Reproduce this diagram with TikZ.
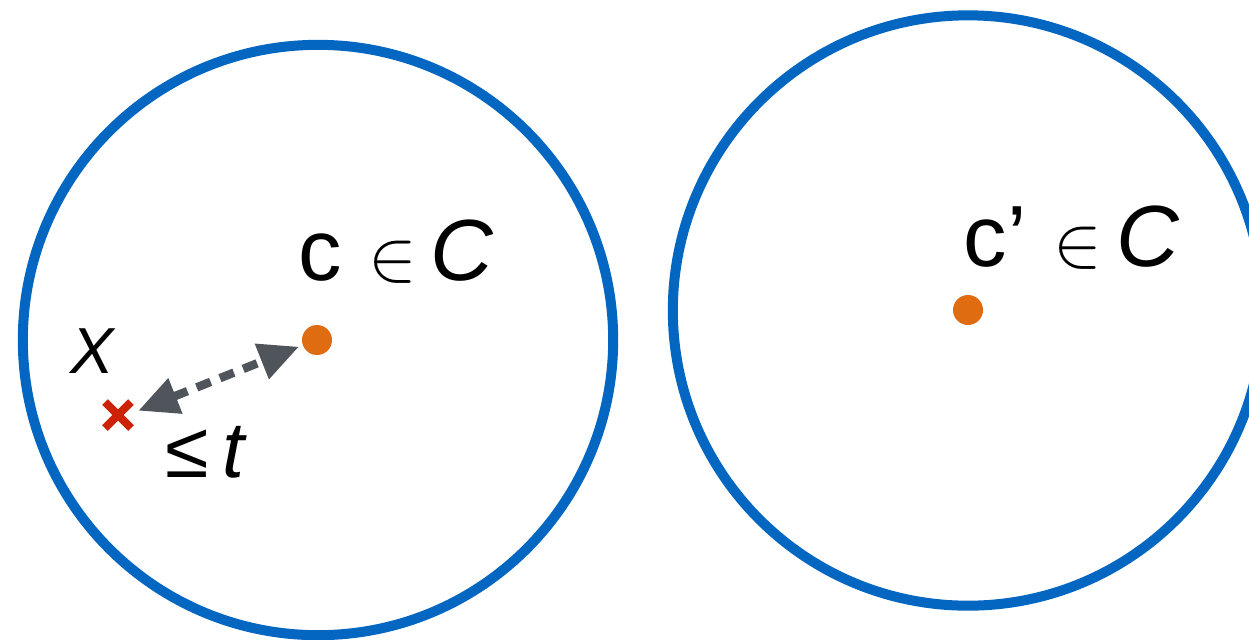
\documentclass[tikz,border=0pt]{standalone}
\usepackage{fontspec}
\setmainfont{Liberation Sans}
\usetikzlibrary{arrows.meta}
\definecolor{ringblue}{HTML}{0366C1}
\definecolor{dotorange}{HTML}{E06C12}
\definecolor{crossred}{HTML}{CC2308}
\definecolor{arrowgray}{HTML}{50555C}
\newcommand{\elemsym}{{\fontsize{22}{26}\selectfont$\in$}}
\tikzset{
  ring/.style={draw=ringblue, line width=0.1cm},
  centerdot/.style={circle, fill=dotorange, minimum size=0.3cm, inner sep=0pt},
  lbl/.style={anchor=base west, inner sep=0pt, font=\fontsize{24.7}{30}\selectfont},
  distarrow/.style={draw=arrowgray, line width=0.085cm, dash pattern=on 0.15cm off 0.1cm,
    {Triangle[length=0.4cm,width=0.36cm]}-{Triangle[length=0.4cm,width=0.36cm]}, shorten <=1pt, shorten >=1pt},
  crossline/.style={draw=crossred, line width=0.08cm}
}
\begin{document}
\begin{tikzpicture}[x=0.01cm,y=-0.01cm]
\useasboundingbox (0,0) rectangle (1249,639);
\draw[ring] (318,340) circle (2.95cm);
\draw[ring] (968,310.5) circle (2.95cm);
\node[centerdot] (c) at (317,340) {};
\node[centerdot] (cp) at (968,310) {};
\draw[crossline] (105,402) -- (131,428);
\draw[crossline] (105,428) -- (131,402);
\coordinate (xtip) at (135,412);
\draw[distarrow] (xtip) -- (c.200);
\node[lbl] (clab) at (298,280) {c\hspace{2.6mm}\elemsym\hspace{1.4mm}\textit{C}};
\node[lbl] (cplab) at (963,266) {c’\hspace{2.7mm}\elemsym\hspace{1.4mm}\textit{C}};
\node[anchor=base west, inner sep=0pt, font=\fontsize{18.5}{22}\selectfont] (xlab) at (70,373) {\textit{X}};
\node[anchor=base west, inner sep=0pt, font=\fontsize{22.5}{27}\selectfont] (tlab) at (165,477) {≤\,\textit{t}};
\end{tikzpicture}
\end{document}
